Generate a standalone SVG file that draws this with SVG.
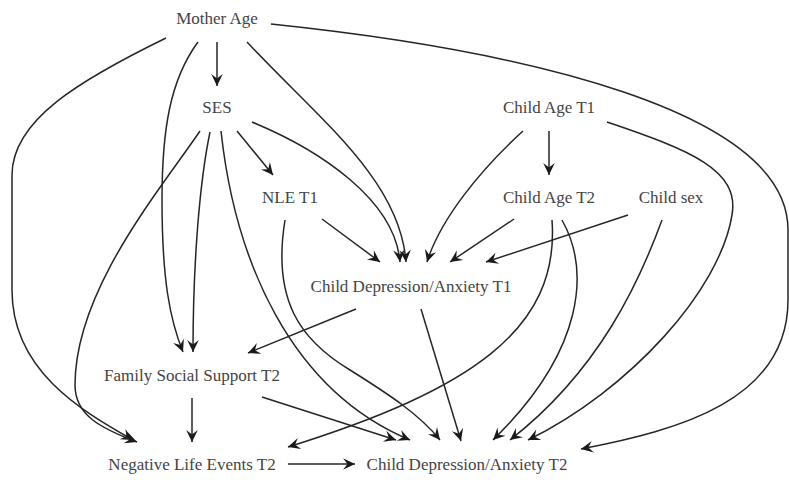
<svg xmlns="http://www.w3.org/2000/svg" width="789" height="480" viewBox="0 0 789 480">
<style>
  text { font-family: "Liberation Serif", "Times New Roman", serif; font-size: 17px; fill: #444; text-anchor: middle; }
  .e { fill: none; stroke: #262626; stroke-width: 1.5; marker-end: url(#arr); }
</style>
<defs>
  <marker id="arr" markerUnits="userSpaceOnUse" viewBox="-13 -7 14 14" refX="0" refY="0" markerWidth="14" markerHeight="14" orient="auto">
    <path d="M0,0 L-12,-5.8 L-7.5,0 L-12,5.8 Z" fill="#1a1a1a"/>
  </marker>
</defs>
<rect width="789" height="480" fill="#fff"/>
<g id="edges">
  <path class="e" d="M217,42 L217,86"/>
  <path class="e" d="M166,38 C 80,80 12,120 12,175 L12,290 C 12,370 80,410 133,440"/>
  <path class="e" d="M198,42 C 170,80 162,130 162,200 C 162,280 170,320 183,352"/>
  <path class="e" d="M247,42 C 320,120 400,180 406,262"/>
  <path class="e" d="M271,24 C 520,50 788,110 788,230 L788,300 C 788,400 680,430 581,449"/>
  <path class="e" d="M237,131 L273,175"/>
  <path class="e" d="M252,122 C 320,150 395,200 400,262"/>
  <path class="e" d="M210,132 C 200,180 193,260 193,352"/>
  <path class="e" d="M200,131 C 160,190 75,290 75,385 C 75,415 100,428 137,442"/>
  <path class="e" d="M221,131 C 235,260 290,390 410,440"/>
  <path class="e" d="M322,219 L380,262"/>
  <path class="e" d="M285,220 C 272,300 300,340 350,370 C 390,395 420,415 440,440"/>
  <path class="e" d="M549,131 L549,175"/>
  <path class="e" d="M523,131 C 480,170 440,220 427,262"/>
  <path class="e" d="M607,122 C 690,150 740,170 732,215 C 720,290 630,390 528,440"/>
  <path class="e" d="M514,219 L450,262"/>
  <path class="e" d="M552,220 C 560,330 470,390 288,447"/>
  <path class="e" d="M562,220 C 590,270 585,350 493,440"/>
  <path class="e" d="M628,215 L486,262"/>
  <path class="e" d="M662,220 C 640,280 600,370 510,440"/>
  <path class="e" d="M356,309 L248,353"/>
  <path class="e" d="M421,309 L461,441"/>
  <path class="e" d="M192,398 L192,442"/>
  <path class="e" d="M262,397 L396,440"/>
  <path class="e" d="M288,464 L355,464"/>
</g>
<g id="mother_age"><text x="217" y="24">Mother Age</text></g>
<g id="ses"><text x="217" y="113">SES</text></g>
<g id="nle_t1"><text x="290" y="203">NLE T1</text></g>
<g id="child_age_t1"><text x="549" y="113">Child Age T1</text></g>
<g id="child_age_t2"><text x="549" y="203">Child Age T2</text></g>
<g id="child_sex"><text x="671" y="203">Child sex</text></g>
<g id="cda_t1"><text x="411" y="292">Child Depression/Anxiety T1</text></g>
<g id="fss_t2"><text x="192" y="381">Family Social Support T2</text></g>
<g id="nle_t2"><text x="192" y="470">Negative Life Events T2</text></g>
<g id="cda_t2"><text x="467" y="470">Child Depression/Anxiety T2</text></g>
</svg>
